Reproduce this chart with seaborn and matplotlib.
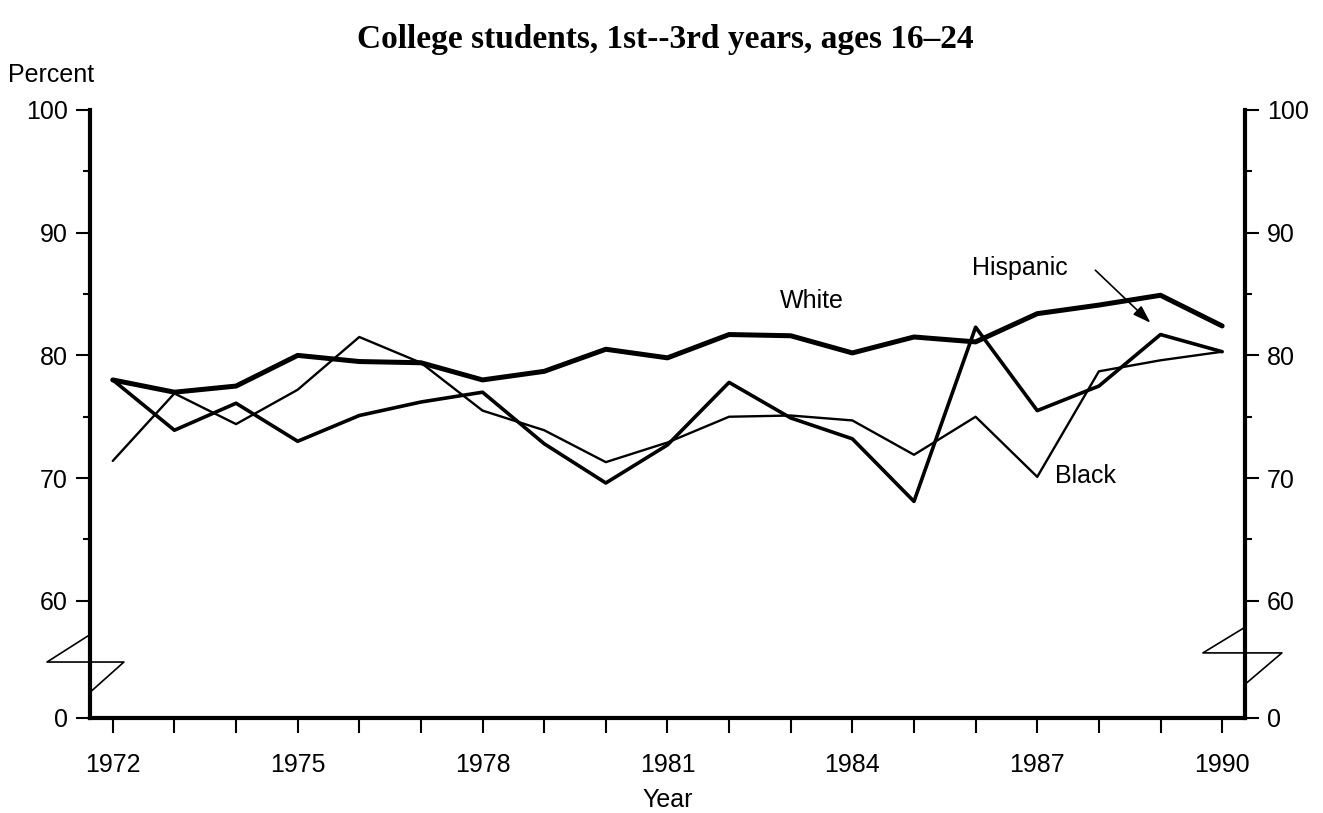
import numpy as np
import pandas as pd
import seaborn as sns
import matplotlib.pyplot as plt

# values (percent)
years = list(range(1972, 1991))
white = [78.0, 77.0, 77.5, 80.0, 79.5, 79.4, 78.0, 78.7, 80.5, 79.8,
         81.7, 81.6, 80.2, 81.5, 81.1, 83.4, 84.1, 84.9, 82.4]
hispanic = [78.0, 73.9, 76.1, 73.0, 75.1, 76.2, 77.0, 72.8, 69.6, 72.7,
            77.8, 74.9, 73.2, 68.1, 82.3, 75.5, 77.5, 81.7, 80.3]
black = [71.4, 76.9, 74.4, 77.2, 81.5, 79.4, 75.5, 73.9, 71.3, 72.9,
         75.0, 75.1, 74.7, 71.9, 75.0, 70.1, 78.7, 79.6, 80.3]

series_names = ['White', 'Hispanic', 'Black']
line_widths = {'White': 3.6, 'Hispanic': 2.6, 'Black': 1.7}

df = pd.DataFrame({'Year': years, 'White': white, 'Hispanic': hispanic, 'Black': black})
long_df = df.melt(id_vars='Year', var_name='Group', value_name='Percent')

# the axis is broken between 0 and 60: "0" sits at this position
y_zero_pos = 50.45
ytick_pos = [y_zero_pos, 60, 70, 80, 90, 100]
ytick_labels = ['0', '60', '70', '80', '90', '100']
xlabel_years = [1972, 1975, 1978, 1981, 1984, 1987, 1990]

sns.set_theme(style='white')
plt.rcParams['font.family'] = ['Liberation Sans', 'DejaVu Sans']
plt.rcParams['text.color'] = 'black'
plt.rcParams['axes.labelcolor'] = 'black'
plt.rcParams['xtick.color'] = 'black'
plt.rcParams['ytick.color'] = 'black'

fig = plt.figure(figsize=(13.23, 8.13), dpi=100)
ax = fig.add_axes([0.068, 0.1169, 0.873, 0.7478])

for name in series_names:
    sub = long_df[long_df['Group'] == name]
    sns.lineplot(data=sub, x='Year', y='Percent', color='black',
                 linewidth=line_widths[name], ax=ax, legend=False)

ax.set_xlim(1971.63, 1990.37)
ax.set_ylim(y_zero_pos, 100)

ax.set_xticks(years)
ax.set_xticklabels([str(y) if y in xlabel_years else '' for y in years], fontsize=18)
ax.set_yticks(ytick_pos)
ax.set_yticklabels(ytick_labels, fontsize=18)
ax.set_yticks([65, 75, 85, 95], minor=True)

ax.tick_params(axis='x', which='major', direction='out', length=11, width=1.5,
               color='black', labelcolor='black', pad=14, bottom=True)
ax.tick_params(axis='y', which='major', direction='out', length=10, width=1.5,
               color='black', labelcolor='black', pad=6, left=True, right=True,
               labelright=True)
ax.tick_params(axis='y', which='minor', direction='out', length=5, width=1.5,
               color='black', left=True, right=True)

for side in ['left', 'right', 'bottom']:
    ax.spines[side].set_visible(True)
    ax.spines[side].set_color('black')
    ax.spines[side].set_linewidth(3)
ax.spines['top'].set_visible(False)

ax.set_xlabel('Year', fontsize=18, labelpad=8, color='black')
ax.set_ylabel('')
ax.grid(False)

# axis break marks
ax.plot([0.0017, 0.0294, -0.0372, -0.0017], [0.045, 0.092, 0.092, 0.135],
        color='black', lw=1.2, transform=ax.transAxes, clip_on=False)
ax.plot([1.0017, 1.032, 0.9636, 0.999], [0.058, 0.107, 0.107, 0.148],
        color='black', lw=1.2, transform=ax.transAxes, clip_on=False)

# series labels
ax.text(1983.35, 84.4, 'White', fontsize=18, ha='center', va='center')
ax.text(1986.72, 87.1, 'Hispanic', fontsize=18, ha='center', va='center')
ax.text(1987.78, 70.2, 'Black', fontsize=18, ha='center', va='center')
ax.annotate('', xy=(1988.87, 82.5), xytext=(1987.91, 87.1),
            arrowprops=dict(arrowstyle='-|>,head_length=0.9,head_width=0.3',
                            color='black', lw=1.2))

fig.text(0.006, 0.908, 'Percent', fontsize=18, ha='left', va='center')
fig.text(0.503, 0.951, 'College students, 1st--3rd years, ages 16\u201324',
         fontsize=24, fontweight='bold', ha='center', va='center',
         family=['Liberation Serif', 'DejaVu Serif'])

fig.savefig('out.png', dpi=100)
